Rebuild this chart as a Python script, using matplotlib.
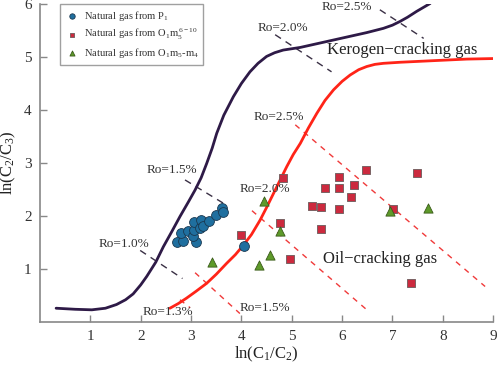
import matplotlib
matplotlib.use("Agg")
import matplotlib.pyplot as plt
import numpy as np

plt.rcParams['font.family'] = ['Liberation Serif', 'DejaVu Serif']
plt.rcParams['mathtext.fontset'] = 'custom'
plt.rcParams['mathtext.rm'] = 'Liberation Serif'
plt.rcParams['mathtext.it'] = 'Liberation Serif'

# Data
p1_x = [2.72, 2.85, 2.80, 2.93, 3.09, 3.03, 3.06, 3.06, 3.18, 3.20, 3.23, 3.36, 3.50, 3.61, 3.63, 4.05]
p1_y = [1.50, 1.53, 1.67, 1.72, 1.50, 1.62, 1.74, 1.89, 1.77, 1.92, 1.82, 1.91, 2.02, 2.16, 2.07, 1.44]

o1_x = [3.99, 4.83, 4.77, 4.97, 5.41, 5.59, 5.59, 5.66, 5.93, 5.93, 5.93, 6.18, 6.24, 6.47, 7.01, 7.48, 7.37]
o1_y = [1.65, 2.71, 1.87, 1.19, 2.19, 2.17, 1.76, 2.52, 2.74, 2.53, 2.14, 2.35, 2.58, 2.87, 2.14, 2.81, 0.73]

o2_x = [3.41, 4.34, 4.56, 4.44, 4.77, 6.95, 7.71]
o2_y = [1.14, 1.08, 1.26, 2.29, 1.72, 2.10, 2.16]

kero_x = [0.32, 0.70, 1.03, 1.30, 1.52, 1.70, 1.85, 2.00, 2.12, 2.30, 2.45, 2.62, 2.78, 2.95, 3.08, 3.20,
          3.31, 3.42, 3.51, 3.65, 3.84, 4.00, 4.17, 4.33, 4.50, 4.66, 4.83, 5.17, 5.50, 5.83, 6.16, 6.49,
          6.82, 7.00, 7.15, 7.30, 7.48, 7.75]
kero_y = [0.26, 0.24, 0.23, 0.26, 0.33, 0.42, 0.53, 0.70, 0.86, 1.13, 1.42, 1.71, 1.99, 2.27, 2.49, 2.72,
          2.99, 3.28, 3.56, 3.90, 4.25, 4.50, 4.72, 4.88, 5.01, 5.08, 5.13, 5.18, 5.25, 5.32, 5.39, 5.46,
          5.54, 5.60, 5.67, 5.75, 5.86, 6.01]

oil_x = [2.58, 2.75, 2.91, 3.10, 3.31, 3.50, 3.71, 3.88, 4.04, 4.20, 4.37, 4.50, 4.64, 4.77, 4.90, 5.03,
         5.17, 5.33, 5.50, 5.66, 5.83, 6.00, 6.16, 6.33, 6.49, 6.65, 6.82, 7.15, 7.81, 8.48, 9.00]
oil_y = [0.26, 0.35, 0.45, 0.58, 0.73, 0.90, 1.11, 1.27, 1.45, 1.65, 1.92, 2.16, 2.43, 2.68, 2.93, 3.16,
         3.37, 3.66, 3.94, 4.18, 4.38, 4.54, 4.66, 4.76, 4.82, 4.86, 4.88, 4.90, 4.93, 4.96, 4.97]

# Ro iso-lines: (x0, y0, x1, y1)
kero_ro = {
    'Ro=1.0%': (1.99, 1.35, 2.83, 0.82),
    'Ro=1.5%': (2.88, 2.68, 3.73, 2.19),
    'Ro=2.0%': (4.67, 5.42, 5.79, 4.72),
    'Ro=2.5%': (6.75, 5.89, 7.62, 5.35),
}
oil_ro = {
    'Ro=1.3%': (2.78, 0.42, 2.98, 0.27),
    'Ro=1.5%': (3.08, 0.93, 3.97, 0.16),
    'Ro=2.0%': (4.21, 2.10, 6.54, 0.19),
    'Ro=2.5%': (5.07, 3.72, 8.84, 0.67),
}
labels = [
    ('Ro=2.5%', 6.09, 5.94), ('Ro=2.0%', 4.83, 5.54), ('Ro=2.5%', 4.75, 3.86),
    ('Ro=1.5%', 2.62, 2.86), ('Ro=2.0%', 4.46, 2.50), ('Ro=1.0%', 1.67, 1.47),
    ('Ro=1.3%', 2.54, 0.19), ('Ro=1.5%', 4.47, 0.26),
]

fig = plt.figure(figsize=(4.98, 3.66), dpi=100)
ax = fig.add_axes([0.0803, 0.1202, 0.91, 0.869])

ax.plot(kero_x, kero_y, color='#2e1a47', lw=2.0, solid_capstyle='round', solid_joinstyle='round', zorder=2)
ax.plot(oil_x, oil_y, color='#ff2418', lw=2.0, solid_capstyle='round', solid_joinstyle='round', zorder=2)

for k, (x0, y0, x1, y1) in kero_ro.items():
    ax.plot([x0, x1], [y0, y1], color='#3a3045', lw=1.0, dashes=(5, 4), zorder=1)
for k, (x0, y0, x1, y1) in oil_ro.items():
    ax.plot([x0, x1], [y0, y1], color='#f03a3a', lw=1.0, dashes=(4, 4), zorder=1)

for t, x, y in labels:
    ax.text(x, y, t, fontsize=9.5, color='#333333', ha='center', va='center', zorder=5)

ax.text(7.19, 5.13, 'Kerogen\u2212cracking gas', fontsize=12, color='#222222', ha='center', va='center')
ax.text(6.75, 1.18, 'Oil\u2212cracking gas', fontsize=12, color='#222222', ha='center', va='center')

ax.scatter(p1_x, p1_y, s=50, marker='o', facecolor='#1f6f9f', edgecolor='#1a3850', lw=0.6, zorder=4,
           label='Natural gas from P$_1$')
ax.scatter(o1_x, o1_y, s=40, marker='s', facecolor='#cc2a3e', edgecolor='#6a5a5a', lw=0.6, zorder=4,
           label='Natural gas from O$_1$m$_5^{\\,6\u221210}$')
ax.scatter(o2_x, o2_y, s=44, marker='^', facecolor='#5e9a2a', edgecolor='#3a5a1a', lw=0.6, zorder=4,
           label='Natural gas from O$_1$m$_5$-m$_4$')

leg = ax.legend(loc='upper left', bbox_to_anchor=(0.044, 1.0), fontsize=7.6, frameon=True, fancybox=False,
                edgecolor='#888888', borderpad=0.45, handletextpad=0.5, handlelength=1.3,
                labelspacing=0.4, markerscale=0.55, borderaxespad=0.0)
leg.get_frame().set_linewidth(1.0)
for txt in leg.get_texts():
    txt.set_color('#333333')

ax.set_xlim(0, 9)
ax.set_ylim(0, 6)
ax.set_xticks(range(1, 10))
ax.set_yticks(range(1, 7))
for s in ['top', 'right']:
    ax.spines[s].set_visible(False)
for s in ['left', 'bottom']:
    ax.spines[s].set_color('#888888')
    ax.spines[s].set_linewidth(1.2)
ax.tick_params(direction='in', length=5, width=1, color='#888888', labelsize=11, labelcolor='#333333', pad=6)

ax.set_xlabel('ln(C$_1$/C$_2$)', fontsize=12, color='#222222', labelpad=1)
ax.set_ylabel('ln(C$_2$/C$_3$)', fontsize=12, color='#222222', labelpad=4)

fig.savefig('out.png', dpi=100)
